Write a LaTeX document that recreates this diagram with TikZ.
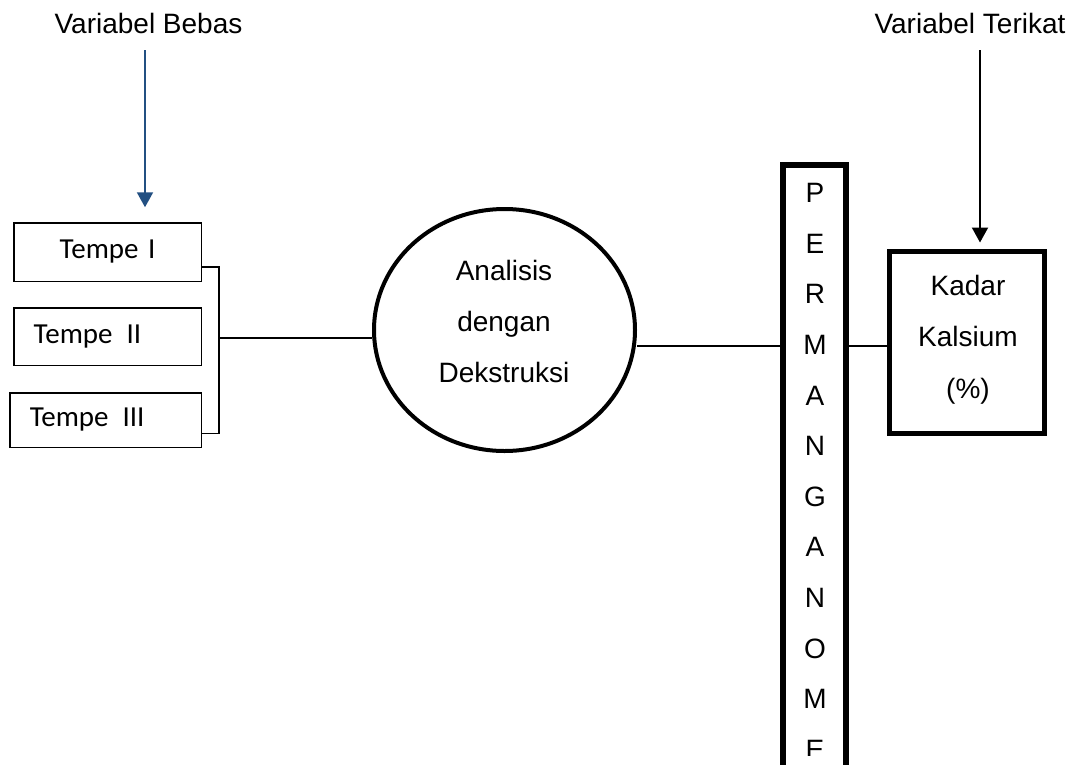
\documentclass[tikz,border=0pt]{standalone}
\usepackage{fontspec}
\setmainfont{Liberation Sans}
\newfontfamily\calib{Carlito}
\usetikzlibrary{arrows.meta,shapes.geometric}
\definecolor{arrowblue}{RGB}{35,80,130}
\begin{document}
\begin{tikzpicture}[x=1pt,y=-1pt,
  lbl/.style={font=\fontsize{28}{51}\selectfont, inner sep=0pt, align=center},
  letter/.style={font=\fontsize{28}{34}\selectfont, inner sep=0pt},
  tbox/.style={draw, line width=1.5pt, minimum width=187.5pt, inner xsep=20pt, inner ysep=0pt,
    text width=147.5pt, align=left, font=\calib\fontsize{29}{34}\selectfont},
  conn/.style={line width=1.5pt},
  thickbox/.style={draw, line width=5pt, inner sep=0pt},
  arr/.style={line width=2pt, -{Triangle[width=16pt,length=15pt]}}
]
\useasboundingbox (0,0) rectangle (1080,764);

% top labels
\node[lbl] (vbl) at (148.5,23) {Variabel Bebas};
\node[lbl] (vtl) at (970,23) {Variabel Terikat};

% Tempe boxes
\node[tbox, minimum height=58.5pt] (t1) at (107.5,252) {\hspace*{26pt}Tempe I};
\node[tbox, minimum height=57.5pt] (t2) at (107.5,336.5) {Tempe\hspace{14pt}II};
\node[tbox, minimum height=54.5pt, minimum width=191.5pt, text width=151.5pt] (t3) at (105.5,420) {Tempe\hspace{14pt}III};

% analysis ellipse
\node[draw, ellipse, line width=4pt, inner sep=0pt, minimum width=261pt, minimum height=242pt] (ana) at (504.5,330) {};
\node[lbl] (anat) at (504,321) {Analisis\\dengan\\Dekstruksi};

% permanganometer column
\begin{scope}
\clip (0,0) rectangle (1080,764);
\node[draw, line width=5.5pt, inner sep=0pt, minimum width=63pt, minimum height=635pt] (perm) at (814.5,482.5) {};
\end{scope}
\begin{scope}
\clip (700,0) rectangle (900,755);
\foreach \c [count=\i from 0] in {P,E,R,M,A,N,G,A,N,O,M,E}{
  \node[letter] (l\i) at (815,193+50.6*\i) {\c};
}
\end{scope}

% result box
\node[thickbox, minimum width=155pt, minimum height=182pt] (kadar) at (967,342.5) {};
\node[lbl, font=\fontsize{28}{51.5}\selectfont] (kadt) at (968,339.5) {Kadar\\Kalsium\\(\%)};

% bracket
\coordinate (bt) at (219,267);
\coordinate (bb) at (219,433.5);
\coordinate (bm) at (219,338);
\draw[conn] (t1.east |- bt) -- (bt) -- (bb) -- (t3.east |- bb);
\draw[conn] (bm) -- (ana.west |- bm);

% right connectors
\coordinate (j) at (0,346);
\draw[conn] (ana.east |- j) -- (perm.west |- j);
\draw[conn] (perm.east |- j) -- (kadar.west |- j);

% arrows
\coordinate (ba) at (145,50);
\draw[arr, draw=arrowblue, fill=arrowblue, shorten >=14.75pt] (ba) -- (ba |- t1.north);
\coordinate (ka) at (980,50);
\draw[arr, shorten >=6.5pt] (ka) -- (ka |- kadar.north);
\end{tikzpicture}
\end{document}
